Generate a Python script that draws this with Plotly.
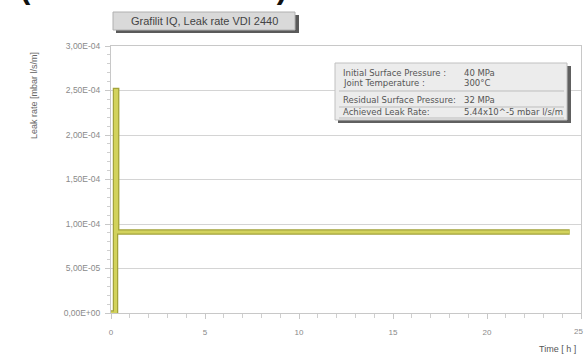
import plotly.graph_objects as go

# Leak-rate measurement trace (time in hours, leak rate in mbar l/s/m)
time_h = [0.0, 0.24, 0.24, 0.30, 0.30, 24.4]
leak_rate = [0.0, 0.0, 2.5e-4, 2.5e-4, 0.91e-4, 0.91e-4]

x_ticks = [0, 5, 10, 15, 20]
x_ticklabels = ["0", "5", "10", "15", "20"]
x_last_tick = 25
y_ticks = [0, 0.5e-4, 1.0e-4, 1.5e-4, 2.0e-4, 2.5e-4, 3.0e-4]
y_ticklabels = ["0,00E+00", "5,00E-05", "1,00E-04", "1,50E-04", "2,00E-04", "2,50E-04", "3,00E-04"]

info_labels = ["Initial Surface Pressure :", "Joint Temperature :",
               "Residual Surface Pressure:", "Achieved Leak Rate:"]
info_values = ["40 MPa", "300°C", "32 MPa", "5.44x10^-5 mbar l/s/m"]

W, H = 585, 358
L, R, T, B = 111, 4, 46, 45
PW, PH = W - L - R, H - T - B


def px(x):
    return (x - L) / PW


def py(y):
    return (H - B - y) / PH


FONT = "Liberation Sans"
GRAY = "#8a8a8a"

fig = go.Figure()
fig.add_trace(go.Scatter(x=time_h, y=leak_rate, mode="lines",
                         line=dict(color="#a3a33a", width=5.5), hoverinfo="skip"))
fig.add_trace(go.Scatter(x=time_h, y=leak_rate, mode="lines",
                         line=dict(color="#d2d25c", width=3), hoverinfo="skip"))

shapes = []
annotations = []

# heading running off the top edge
annotations.append(dict(text="<b>(W Leak VDI 2440)</b>", xref="paper", yref="paper",
                        x=px(18), y=py(7), xanchor="left", yanchor="bottom",
                        showarrow=False, font=dict(family=FONT, size=31, color="#111")))

# chart caption box with shadow
shapes.append(dict(type="rect", xref="paper", yref="paper",
                   x0=px(116), x1=px(299), y0=py(33), y1=py(15),
                   fillcolor="#5a5a5a", line=dict(width=0)))
shapes.append(dict(type="rect", xref="paper", yref="paper",
                   x0=px(113), x1=px(295), y0=py(30), y1=py(12),
                   fillcolor="#d9d9d9", line=dict(color="#b0b0b0", width=1)))
annotations.append(dict(text="Grafilit IQ, Leak rate VDI 2440", xref="paper", yref="paper",
                        x=px(204), y=py(21), xanchor="center", yanchor="middle",
                        showarrow=False, font=dict(family=FONT, size=11, color="#444")))

# parameter info box with shadow
shapes.append(dict(type="rect", xref="paper", yref="paper",
                   x0=px(338), x1=px(571), y0=py(123), y1=py(66),
                   fillcolor="#606060", line=dict(width=0)))
shapes.append(dict(type="rect", xref="paper", yref="paper",
                   x0=px(335), x1=px(567), y0=py(120), y1=py(63),
                   fillcolor="#ececec", line=dict(color="#c0c0c0", width=1)))
for sep in (91, 107, 118):
    shapes.append(dict(type="line", xref="paper", yref="paper",
                       x0=px(339), x1=px(564), y0=py(sep), y1=py(sep),
                       line=dict(color="#bdbdbd", width=1)))
rows_y = [73, 83, 100, 112]
for lab, val, ry in zip(info_labels, info_values, rows_y):
    annotations.append(dict(text=lab, xref="paper", yref="paper", x=px(341), y=py(ry),
                            xanchor="left", yanchor="middle", showarrow=False,
                            font=dict(family="DejaVu Sans", size=8.5, color="#555")))
    annotations.append(dict(text=val, xref="paper", yref="paper", x=px(462), y=py(ry),
                            xanchor="left", yanchor="middle", showarrow=False,
                            font=dict(family="DejaVu Sans", size=8.5, color="#555")))

# axis titles
annotations.append(dict(text="Leak rate [mbar l/s/m]", xref="paper", yref="paper",
                        x=px(34), y=py(96), xanchor="center", yanchor="middle",
                        textangle=-90, showarrow=False,
                        font=dict(family=FONT, size=9, color="#666")))
annotations.append(dict(text="Time [ h ]", xref="paper", yref="paper",
                        x=px(578), y=py(349), xanchor="right", yanchor="middle",
                        showarrow=False, font=dict(family=FONT, size=9, color="#555")))

# last x tick label sits at the right edge of the page
annotations.append(dict(text=str(x_last_tick), xref="x", yref="paper",
                        x=x_last_tick, y=py(331), xanchor="right", yanchor="middle",
                        xshift=4, showarrow=False,
                        font=dict(family=FONT, size=8, color=GRAY)))

fig.update_layout(
    width=W, height=H,
    margin=dict(l=L, r=R, t=T, b=B),
    paper_bgcolor="white", plot_bgcolor="white",
    showlegend=False,
    shapes=shapes, annotations=annotations,
    xaxis=dict(range=[0, 25], tickvals=x_ticks + [x_last_tick], ticktext=x_ticklabels + [""],
               showgrid=False, zeroline=False,
               showline=True, linecolor="#c8c8c8", linewidth=1, mirror=True,
               ticks="outside", ticklen=5, tickcolor="#c8c8c8", ticklabelstandoff=6,
               minor=dict(dtick=1, ticks="outside", ticklen=4, tickcolor="#cfcfcf"),
               tickfont=dict(family=FONT, size=8, color=GRAY)),
    yaxis=dict(range=[0, 3e-4], tickvals=y_ticks, ticktext=y_ticklabels,
               showgrid=True, gridcolor="#d4d4d4", gridwidth=1, zeroline=False,
               showline=True, linecolor="#c8c8c8", linewidth=1, mirror=True,
               ticks="outside", ticklen=5, tickcolor="#c8c8c8", ticklabelstandoff=3,
               minor=dict(dtick=1e-5, ticks="outside", ticklen=3, tickcolor="#cfcfcf"),
               tickfont=dict(family=FONT, size=8.5, color=GRAY)),
)

fig.write_html("out.html")
